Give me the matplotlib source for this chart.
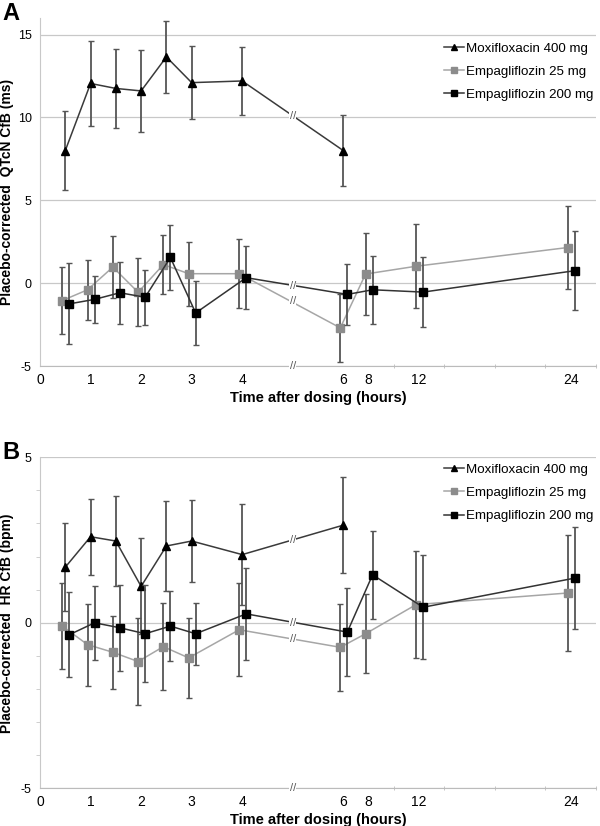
"""Placebo-corrected QTcN and HR change from baseline, two panels."""

import matplotlib

matplotlib.use("Agg")

import matplotlib.pyplot as plt
import matplotlib.transforms as mtransforms
from matplotlib.lines import Line2D
import numpy as np

plt.rcParams["font.family"] = ["Liberation Sans", "DejaVu Sans"]

SERIES = ["Moxifloxacin 400 mg", "Empagliflozin 25 mg", "Empagliflozin 200 mg"]

TIMES = [0.5, 1, 1.5, 2, 2.5, 3, 4, 6, 8, 12, 24]
MOXI_TIMES = [0.5, 1, 1.5, 2, 2.5, 3, 4, 6]

# Panel A: QTcN CfB (ms)
QT_MOXI = [8.0, 12.05, 11.75, 11.6, 13.65, 12.1, 12.2, 8.0]
QT_MOXI_ERR = [2.4, 2.55, 2.4, 2.45, 2.15, 2.2, 2.05, 2.15]
QT_E25 = [-1.05, -0.4, 0.97, -0.55, 1.12, 0.57, 0.57, -2.7, 0.55, 1.02, 2.15]
QT_E25_ERR = [2.0, 1.8, 1.87, 2.05, 1.78, 1.92, 2.08, 2.03, 2.5, 2.55, 2.52]
QT_E200 = [-1.25, -0.98, -0.58, -0.85, 1.55, -1.8, 0.33, -0.68, -0.4, -0.54, 0.75]
QT_E200_ERR = [2.45, 1.4, 1.88, 1.66, 1.97, 1.91, 1.9, 1.85, 2.06, 2.1, 2.37]

# Panel B: HR CfB (bpm)
HR_MOXI = [1.68, 2.6, 2.47, 1.1, 2.32, 2.47, 2.06, 2.95]
HR_MOXI_ERR = [1.32, 1.15, 1.35, 1.45, 1.36, 1.25, 1.53, 1.45]
HR_E25 = [-0.1, -0.66, -0.89, -1.17, -0.72, -1.06, -0.21, -0.74, -0.33, 0.55, 0.9]
HR_E25_ERR = [1.31, 1.24, 1.1, 1.31, 1.32, 1.2, 1.4, 1.32, 1.2, 1.62, 1.74]
HR_E200 = [-0.36, 0.0, -0.15, -0.33, -0.1, -0.33, 0.27, -0.28, 1.45, 0.47, 1.35]
HR_E200_ERR = [1.28, 1.12, 1.3, 1.46, 1.06, 0.94, 1.4, 1.32, 1.33, 1.57, 1.55]

TICK_HOURS = [0, 1, 2, 3, 4, 6, 8, 12, 24]

# hours -> axis units: 1 unit/h up to 6 h, then 0.25 unit/h
H_KNOTS = [-100.0, 6.0, 1000.0]
U_KNOTS = [-100.0, 6.0, 6.0 + 994.0 * 0.25]


def forward(h):
    return np.interp(h, H_KNOTS, U_KNOTS)


def inverse(u):
    return np.interp(u, U_KNOTS, H_KNOTS)


def draw_panel(fig, ax, moxi, moxi_err, e25, e25_err, e200, e200_err,
               ylim, yticks, ylabel, letter, minor_y, legend_y):
    ax.set_xscale("function", functions=(forward, inverse))
    ax.set_xlim(0, 26)
    ax.set_ylim(*ylim)

    shift_l = ax.transData + mtransforms.ScaledTranslation(
        -0.03, 0, fig.dpi_scale_trans)
    shift_r = ax.transData + mtransforms.ScaledTranslation(
        0.04, 0, fig.dpi_scale_trans)

    err_kw = dict(ecolor="#555555", elinewidth=1.3, capsize=2.2,
                  capthick=1.0)

    ax.errorbar(MOXI_TIMES, moxi, yerr=moxi_err, color="#3a3a3a", lw=1.1,
                marker="^", ms=6, mfc="black", mec="black", zorder=3,
                **err_kw)
    ax.errorbar(TIMES, e25, yerr=e25_err, color="#a6a6a6", lw=1.1,
                marker="s", ms=6, mfc="#8c8c8c", mec="#8c8c8c",
                transform=shift_l, zorder=3, **err_kw)
    ax.errorbar(TIMES, e200, yerr=e200_err, color="#333333", lw=1.1,
                marker="s", ms=6, mfc="black", mec="black",
                transform=shift_r, zorder=4, **err_kw)

    # break marks between 4 h and 6 h
    for vals in (moxi, e25, e200):
        ax.text(5, (vals[6] + vals[7]) / 2, "//", fontsize=8,
                color="#555555", ha="center", va="center", zorder=5,
                bbox=dict(facecolor="white", edgecolor="none", pad=0.3))
    ax.text(5, ylim[0], "//", fontsize=8, color="#555555", ha="center",
            va="center", zorder=5, clip_on=False,
            bbox=dict(facecolor="white", edgecolor="none", pad=0.3))

    ax.set_yticks(yticks)
    ax.set_yticklabels([str(v) for v in yticks])
    ax.yaxis.grid(True, color="#c8c8c8", lw=0.9)
    ax.set_axisbelow(True)
    ax.tick_params(axis="y", length=0, pad=6, labelsize=9)
    if minor_y:
        ax.set_yticks(np.arange(ylim[0], ylim[1] + 1, 1), minor=True)
        ax.tick_params(axis="y", which="minor", length=3, color="#c8c8c8")

    ax.set_xticks(TICK_HOURS)
    ax.set_xticklabels([str(t) for t in TICK_HOURS])
    ax.tick_params(axis="x", length=0, pad=5, labelsize=10)
    unit_hours = [inverse(u) for u in range(0, 12)]
    ax.set_xticks(unit_hours, minor=True)
    ax.tick_params(axis="x", which="minor", length=3, direction="inout",
                   color="#bbbbbb")

    for side in ("top", "right"):
        ax.spines[side].set_visible(False)
    ax.spines["left"].set_color("#c8c8c8")
    ax.spines["bottom"].set_color("#bbbbbb")

    ax.set_xlabel("Time after dosing (hours)", fontsize=10.5,
                  fontweight="bold", labelpad=3)
    ax.set_ylabel(ylabel, fontsize=10, fontweight="bold")
    ax.yaxis.set_label_coords(-0.046, 0.5)

    handles = [
        Line2D([], [], color="#3a3a3a", lw=1.1, marker="^", ms=4,
               mfc="black", mec="black"),
        Line2D([], [], color="#a6a6a6", lw=1.1, marker="s", ms=4,
               mfc="#8c8c8c", mec="#8c8c8c"),
        Line2D([], [], color="#333333", lw=1.1, marker="s", ms=4,
               mfc="black", mec="black"),
    ]
    ax.legend(handles, SERIES, loc="upper right",
              bbox_to_anchor=(1.016, legend_y), frameon=False, fontsize=9.6,
              handlelength=1.5, handletextpad=0.15, labelspacing=0.82)

    top_px = (1 - ax.get_position().y1) * fig.get_figheight() * fig.dpi
    fig.text(0.004, 1 - (top_px - 16) / (fig.get_figheight() * fig.dpi),
             letter, fontsize=17, fontweight="bold", va="top", ha="left")


fig = plt.figure(figsize=(6.0, 8.26), dpi=100)
ax_a = fig.add_axes([0.0667, 0.5569, 0.9267, 0.4213])
ax_b = fig.add_axes([0.0667, 0.0456, 0.9267, 0.4008])

draw_panel(fig, ax_a, QT_MOXI, QT_MOXI_ERR, QT_E25, QT_E25_ERR, QT_E200,
           QT_E200_ERR, (-5, 16), [-5, 0, 5, 10, 15],
           "Placebo-corrected  QTcN CfB (ms)", "A", False, 0.965)
draw_panel(fig, ax_b, HR_MOXI, HR_MOXI_ERR, HR_E25, HR_E25_ERR, HR_E200,
           HR_E200_ERR, (-5, 5), [-5, 0, 5],
           "Placebo-corrected  HR CfB (bpm)", "B", True, 1.018)

fig.savefig("out.png", dpi=100)
plt.close(fig)
